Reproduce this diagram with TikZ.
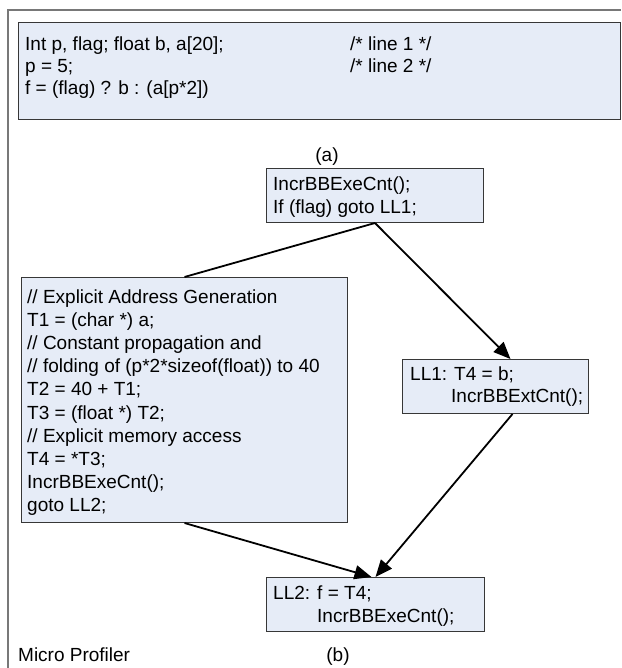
\documentclass[tikz,border=0pt]{standalone}
\usepackage{fontspec}
\setmainfont{Liberation Sans}
\usetikzlibrary{arrows.meta}
\definecolor{boxfill}{RGB}{230,236,247}
\definecolor{boxdraw}{RGB}{55,55,55}
\definecolor{framecol}{RGB}{120,120,120}
\begin{document}
\begin{tikzpicture}[x=1pt,y=-1pt,
  box/.style={draw=boxdraw, fill=boxfill, line width=1pt, anchor=north west, inner sep=0pt},
  txt/.style={anchor=base west, inner sep=0pt, font=\fontsize{19}{23}\selectfont},
  lbl/.style={anchor=base, inner sep=0pt, font=\fontsize{19}{23}\selectfont},
  conn/.style={line width=1.8pt, black},
  arr/.style={conn, -{Triangle[length=17pt,width=14pt]}}]
\useasboundingbox (0,0) rectangle (621,668);
% outer frame (partly visible)
\draw[framecol, line width=1.2pt] (8,668) -- (8,10) -- (621,10);

% (a) source box
\node[box, minimum width=602pt, minimum height=97pt] (boxa) at (18,22) {};
\node[txt] (a1) at (25,51) {Int p, flag; float b, a[20];};
\node[txt] (a1c) at (350,51) {/* line 1 */};
\node[txt] (a2) at (25,73) {p = 5;};
\node[txt] (a2c) at (350,73) {/* line 2 */};
\node[txt] (a3) at (25,95) {f = (flag) ? b : (a[p*2])};
\node[lbl] (capa) at (327,162) {(a)};

% top block
\node[box, minimum width=217pt, minimum height=54pt] (topb) at (266,168) {};
\node[txt] (t1) at (273,191) {IncrBBExeCnt();};
\node[txt] (t2) at (273,214) {If (flag) goto LL1;};

% left block
\node[box, minimum width=326pt, minimum height=245pt] (leftb) at (21,277) {};
\node[txt] (l1) at (27,303.0) {// Explicit Address Generation};
\node[txt] (l2) at (27,326.2) {T1 = (char *) a;};
\node[txt] (l3) at (27,349.4) {// Constant propagation and};
\node[txt] (l4) at (27,372.6) {// folding of (p*2*sizeof(float)) to 40};
\node[txt] (l5) at (27,395.8) {T2 = 40 + T1;};
\node[txt] (l6) at (27,419.0) {T3 = (float *) T2;};
\node[txt] (l7) at (27,442.2) {// Explicit memory access};
\node[txt] (l8) at (27,465.4) {T4 = *T3;};
\node[txt] (l9) at (27,488.6) {IncrBBExeCnt();};
\node[txt] (l10) at (27,511.8) {goto LL2;};

% LL1 block
\node[box, minimum width=186pt, minimum height=54pt] (ll1) at (402,359) {};
\node[txt] (r1) at (410,380) {LL1: T4 = b;};
\node[txt] (r2) at (451,402) {IncrBBExtCnt();};

% LL2 block
\node[box, minimum width=218pt, minimum height=54pt] (ll2) at (266,577) {};
\node[txt] (b1) at (273,599) {LL2: f = T4;};
\node[txt] (b2) at (317,622) {IncrBBExeCnt();};

% captions
\node[txt] (mp) at (18,661) {Micro Profiler};
\node[lbl] (capb) at (338,661) {(b)};

% connectors
\draw[conn] (topb.south) -- (leftb.north);
\draw[arr] (topb.south) -- ([xshift=15pt]ll1.north);
\draw[arr] (leftb.south) -- ([xshift=-4pt]ll2.north);
\draw[arr] ([xshift=17pt]ll1.south) -- (ll2.north);
\end{tikzpicture}
\end{document}
